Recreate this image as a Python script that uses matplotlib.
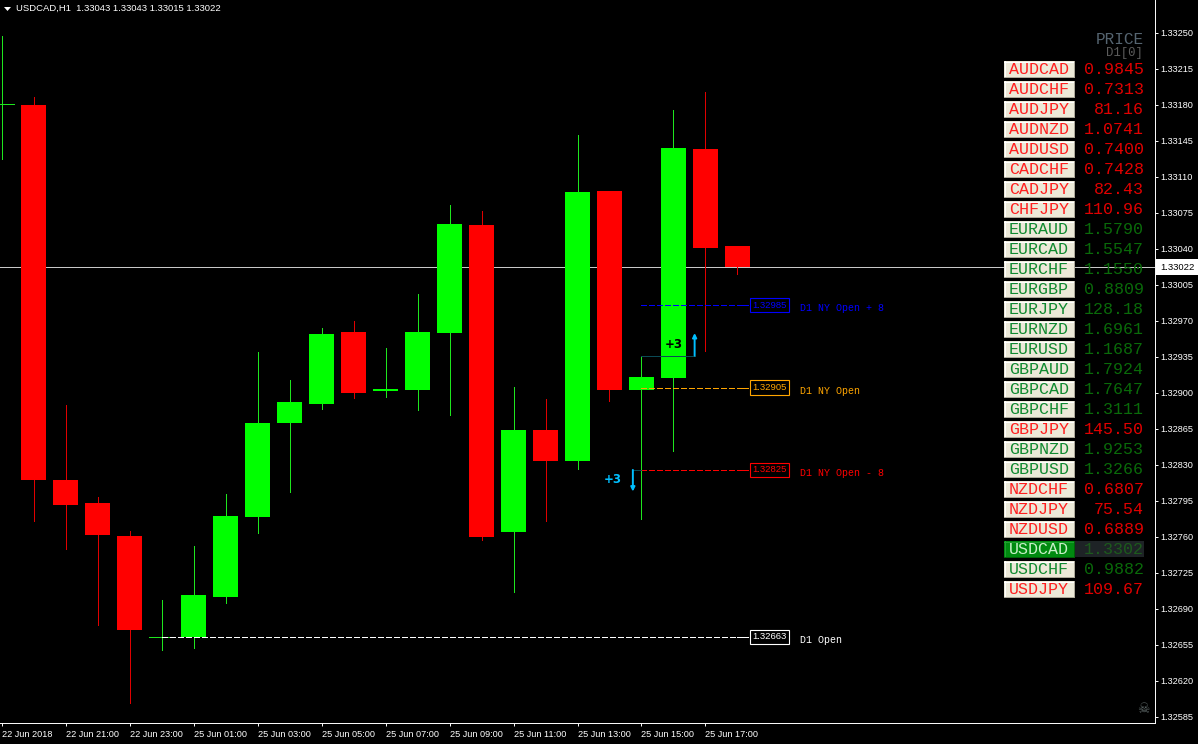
import matplotlib
matplotlib.use("Agg")
from matplotlib import pyplot as plt
from matplotlib.patches import Rectangle, Polygon

plt.rcParams['font.family'] = ['Liberation Sans', 'DejaVu Sans']

# candles, first one is cut off by the left edge
bar_idx = list(range(-1, 23))
opens = [1.33181, 1.33180, 1.32815, 1.32793, 1.32761, 1.32663, 1.32663, 1.32702, 1.32779, 1.32871,
         1.32889, 1.32959, 1.32902, 1.32903, 1.32958, 1.33063, 1.32765, 1.32864, 1.32834, 1.33096,
         1.32903, 1.32914, 1.33137, 1.33043]
highs = [1.33247, 1.33187, 1.32888, 1.32799, 1.32766, 1.32699, 1.32751, 1.32802, 1.32940, 1.32912,
         1.32963, 1.32970, 1.32943, 1.32996, 1.33082, 1.33077, 1.32906, 1.32894, 1.33150, 1.33096,
         1.32936, 1.33175, 1.33192, 1.33043]
lows = [1.33127, 1.32775, 1.32748, 1.32674, 1.32599, 1.32650, 1.32652, 1.32696, 1.32764, 1.32804,
        1.32884, 1.32895, 1.32896, 1.32883, 1.32878, 1.32757, 1.32706, 1.32775, 1.32826, 1.32892,
        1.32777, 1.32843, 1.32941, 1.33015]
closes = [1.33181, 1.32815, 1.32791, 1.32762, 1.32669, 1.32663, 1.32703, 1.32780, 1.32871, 1.32891,
          1.32957, 1.32900, 1.32904, 1.32959, 1.33064, 1.32760, 1.32864, 1.32834, 1.33095, 1.32903,
          1.32915, 1.33138, 1.33041, 1.33022]

last_price = 1.33022

y_ticks = [1.33250, 1.33215, 1.33180, 1.33145, 1.33110, 1.33075, 1.33040, 1.33005, 1.32970, 1.32935,
           1.32900, 1.32865, 1.32830, 1.32795, 1.32760, 1.32725, 1.32690, 1.32655, 1.32620, 1.32585]
x_ticks = [-1, 1, 3, 5, 7, 9, 11, 13, 15, 17, 19, 21]
x_labels = ['22 Jun 2018', '22 Jun 21:00', '22 Jun 23:00', '25 Jun 01:00', '25 Jun 03:00', '25 Jun 05:00',
            '25 Jun 07:00', '25 Jun 09:00', '25 Jun 11:00', '25 Jun 13:00', '25 Jun 15:00', '25 Jun 17:00']

# D1 levels drawn right of the candles
level_prices = [1.32985, 1.32905, 1.32825, 1.32663]
level_starts = [19, 19, 19, 4]
level_names = ['D1 NY Open + 8', 'D1 NY Open', 'D1 NY Open - 8', 'D1 Open']
level_colors = ['#0000ff', '#ffa500', '#ff0000', '#ffffff']

# price panel
symbols = ['AUDCAD', 'AUDCHF', 'AUDJPY', 'AUDNZD', 'AUDUSD', 'CADCHF', 'CADJPY', 'CHFJPY', 'EURAUD',
           'EURCAD', 'EURCHF', 'EURGBP', 'EURJPY', 'EURNZD', 'EURUSD', 'GBPAUD', 'GBPCAD', 'GBPCHF',
           'GBPJPY', 'GBPNZD', 'GBPUSD', 'NZDCHF', 'NZDJPY', 'NZDUSD', 'USDCAD', 'USDCHF', 'USDJPY']
quotes = ['0.9845', '0.7313', '81.16', '1.0741', '0.7400', '0.7428', '82.43', '110.96', '1.5790',
          '1.5547', '1.1550', '0.8809', '128.18', '1.6961', '1.1687', '1.7924', '1.7647', '1.3111',
          '145.50', '1.9253', '1.3266', '0.6807', '75.54', '0.6889', '1.3302', '0.9882', '109.67']
is_down = [1, 1, 1, 1, 1, 1, 1, 1, 0,
           0, 0, 0, 0, 0, 0, 0, 0, 0,
           1, 0, 0, 1, 1, 1, 0, 0, 1]

fig = plt.figure(figsize=(11.98, 7.44), dpi=100, facecolor='black')
ax = fig.add_axes([0, 21 / 744, 1155 / 1198, 723 / 744], facecolor='black')
ax.set_xlim(-1.047, 35.047)
ax.set_ylim(1.325791, 1.332816)

for s in ['top', 'left']:
    ax.spines[s].set_visible(False)
for s in ['right', 'bottom']:
    ax.spines[s].set_color('white')
    ax.spines[s].set_linewidth(0.7)

ax.yaxis.tick_right()
ax.set_yticks(y_ticks)
ax.set_yticklabels(['%.5f' % t for t in y_ticks])
ax.set_xticks(x_ticks)
ax.set_xticklabels(x_labels, ha='left')
ax.tick_params(colors='white', labelsize=6.6, length=2.4, width=0.7)
ax.tick_params(axis='x', pad=2.5)
ax.tick_params(axis='y', pad=1.5)

ax.axhline(last_price, color='#c8c8c8', lw=0.7, zorder=1, antialiased=False)

width = 25 / 32
for i in range(len(bar_idx)):
    x, o, h, l, c = bar_idx[i], opens[i], highs[i], lows[i], closes[i]
    up = c >= o
    ax.vlines(x, l, h, color='#1ee61e' if up else '#e00000', lw=0.7, zorder=2, antialiased=False)
    if o == c:
        ax.hlines(o, x - width / 2, x + width / 2, color='#1ee61e', lw=0.7, zorder=3, antialiased=False)
    else:
        ax.bar(x, abs(c - o), width, bottom=min(o, c), color='#00ff00' if up else '#ff0000',
               linewidth=0, zorder=3)

# level lines with their price boxes and names
for i in range(4):
    p = level_prices[i]
    col = level_colors[i]
    ax.plot([level_starts[i], 22], [p, p], color=col, lw=0.7, linestyle=(0, (6, 3)), zorder=4, antialiased=False)
    ax.plot([22, 22.34], [p, p], color=col, lw=0.7, zorder=4, antialiased=False)
    ax.text(23, p, '%.5f' % p, color=col, fontsize=6.8, ha='center', va='center', zorder=5,
            bbox=dict(boxstyle='square,pad=0.28', facecolor='black', edgecolor=col, linewidth=0.8))
    ax.text(23.95, p - 0.00003, level_names[i], color=col, fontsize=7.2, family='Liberation Mono',
            ha='left', va='center', zorder=5)

# +3 arrows
arrow_col = '#00bfff'
ax.plot([19, 20.66], [1.32936, 1.32936], color='#0b4a55', lw=0.7, zorder=4, antialiased=False)
ax.plot([18.73, 19], [1.32825, 1.32825], color='#0b4a55', lw=0.7, zorder=4, antialiased=False)
ax.annotate('', xy=(20.66, 1.32958), xytext=(20.66, 1.32936), zorder=5,
            arrowprops=dict(arrowstyle='-|>', color=arrow_col, lw=1.4, mutation_scale=6, shrinkA=0, shrinkB=0))
ax.annotate('', xy=(18.73, 1.32804), xytext=(18.73, 1.32825), zorder=5,
            arrowprops=dict(arrowstyle='-|>', color=arrow_col, lw=1.4, mutation_scale=6, shrinkA=0, shrinkB=0))
ax.text(20, 1.32947, '+3', color='black', fontsize=8.5, fontweight='bold', family='DejaVu Sans',
        ha='center', va='center', zorder=5)
ax.text(18.1, 1.32816, '+3', color=arrow_col, fontsize=8.5, fontweight='bold', family='DejaVu Sans',
        ha='center', va='center', zorder=5)

# price tag on the axis
ax.text(1.0042, last_price, '%.5f' % last_price, color='black', fontsize=6.8, ha='left', va='center',
        transform=ax.get_yaxis_transform(), clip_on=False, zorder=10,
        bbox=dict(boxstyle='square,pad=0.4', facecolor='white', edgecolor='none'))

# screen-fixed objects, pixel coordinates
ov = fig.add_axes([0, 0, 1, 1], facecolor='none')
ov.set_xlim(0, 1198)
ov.set_ylim(744, 0)
ov.axis('off')

ov.add_patch(Polygon([(4, 7), (11, 7), (7.5, 11)], closed=True, color='white', lw=0))
ov.text(16, 8, 'USDCAD,H1  1.33043 1.33043 1.33015 1.33022', color='white', fontsize=6.8, ha='left', va='center')

ov.text(1144, 40, 'PRICE', color='#556470', fontsize=11.5, family='Liberation Mono', ha='right', va='center')
ov.text(1143, 53, 'D1[0]', color='#5c5c5c', fontsize=8.8, family='Liberation Mono', ha='right', va='center')

for i in range(len(symbols)):
    yc = 69 + 20 * i
    active = symbols[i] == 'USDCAD'
    if active:
        face, txt, val = '#008a10', '#c8f0c8', '#1c5a1c'
        ov.add_patch(Rectangle((1074, yc - 8), 70, 16, facecolor='#1e2326', edgecolor='none'))
    elif is_down[i]:
        face, txt, val = '#ece9d8', '#ff2020', '#e00000'
    else:
        face, txt, val = '#ece9d8', '#108a30', '#0a6a0a'
    ov.add_patch(Rectangle((1004, yc - 8), 70, 16, facecolor=face, edgecolor='none'))
    ov.plot([1004, 1074], [yc - 7.5, yc - 7.5], color='white' if not active else '#20a030', lw=0.7, antialiased=False)
    ov.plot([1004.5, 1004.5], [yc - 8, yc + 8], color='white' if not active else '#20a030', lw=0.7, antialiased=False)
    ov.plot([1004, 1074], [yc + 7.5, yc + 7.5], color='#aca899' if not active else '#006008', lw=0.7, antialiased=False)
    ov.plot([1073.5, 1073.5], [yc - 8, yc + 8], color='#aca899' if not active else '#006008', lw=0.7, antialiased=False)
    ov.text(1039, yc, symbols[i], color=txt, fontsize=12, family='Liberation Mono', ha='center', va='center')
    ov.text(1144, yc, quotes[i], color=val, fontsize=12, family='Liberation Mono', ha='right', va='center')

ov.text(1143, 709, '\u2620', color='#5a6464', fontsize=10, family='DejaVu Sans', ha='center', va='center')

fig.savefig('out.png', dpi=100, facecolor='black')
